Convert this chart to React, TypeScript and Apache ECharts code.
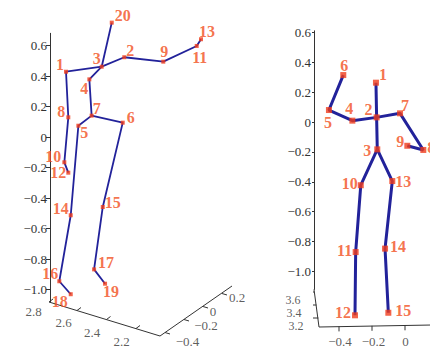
import React, { useEffect, useRef } from "react";
import * as echarts from "echarts";

// ---------- data ----------
// Left view (oblique): joint 1..20 horizontal (projected) and height values
const leftJointX = [0.105, 0.487, 0.339, 0.258, 0.186, 0.477, 0.273, 0.12, 0.743, 0.094, 0.962, 0.12, 0.99, 0.136, 0.346, 0.061, 0.289, 0.136, 0.361, 0.405];
const leftJointY = [0.428, 0.523, 0.461, 0.378, 0.074, 0.094, 0.14, 0.129, 0.494, -0.166, 0.597, -0.234, 0.641, -0.513, -0.459, -0.946, -0.868, -1.031, -0.962, 0.75];
const leftBones = [
  [20, 3],
  [13, 11, 9, 2, 3, 1, 8, 10, 12],
  [3, 4, 7, 5, 14, 16, 18],
  [7, 6, 15, 17, 19],
];

// Right view (frontal): joint 1..15 x and height values
const rightJointX = [-0.176, -0.172, -0.168, -0.319, -0.461, -0.374, -0.03, 0.111, 0.014, -0.268, -0.299, -0.303, -0.077, -0.121, -0.101];
const rightJointY = [0.263, 0.031, -0.183, 0.009, 0.08, 0.314, 0.058, -0.187, -0.159, -0.423, -0.87, -1.293, -0.395, -0.847, -1.276];
const rightBones = [
  [1, 2, 3],
  [6, 5, 4, 2, 7, 8, 9],
  [3, 10, 11, 12],
  [3, 13, 14, 15],
];

// tick labels
const heightTicks = [-1.0, -0.8, -0.6, -0.4, -0.2, 0, 0.2, 0.4, 0.6];
const leftDepthTicks = [2.8, 2.6, 2.4, 2.2];
const leftSideTicks = [-0.4, -0.2, 0, 0.2];
const rightDepthTicks = [3.6, 3.4, 3.2];
const rightXTicks = [-0.4, -0.2, 0];

// ---------- styling ----------
const leftLabelOffset = [
  [-6, -7], [6, -7], [-5, -8], [-5, 9], [6, 7], [8, -5], [5, -7], [-7, -6], [1, -10], [-11, -6],
  [3, 12], [-10, 0], [6, -8], [-10, -7], [10, -4], [-9, -8], [12, -7], [-11, 7], [6, 8], [11, -7],
];
const rightLabelOffset = [
  [7, -8], [-8, -8], [-10, 1], [-3, -12], [-1, 12], [1, -10], [5, -8], [8, -2], [-7, -4], [-11, -2],
  [-11, -2], [-12, -3], [11, 0], [13, -2], [15, -2],
];

const FONT = "'Liberation Serif', 'Times New Roman', serif";
const BLUE = "#22229a";
const RED = "#f03c1c";
const LABEL_RED = "#f24f20";
const AXIS = "#333";

// pixel -> data helpers for decorative 3D axes
const L = (px: number, py: number) => [(px - 50) / 152.5, (137 - py) / 152.5];
const R = (px: number, py: number) => [(px - 405) / 165, (122 - py) / 149.5];

const fmt = (v: number) => (Math.abs(v) < 1e-9 ? "0" : v.toFixed(1).replace("-", "\u2212"));

function lineSeries(idx: number, pts: number[][], color: string, width: number): any {
  return {
    type: "line",
    xAxisIndex: idx,
    yAxisIndex: idx,
    data: pts,
    symbol: "none",
    clip: false,
    silent: true,
    lineStyle: { color, width },
    z: 2,
  };
}

function textSeries(idx: number, items: { p: number[]; t: string }[], size = 13): any {
  return {
    type: "scatter",
    xAxisIndex: idx,
    yAxisIndex: idx,
    symbolSize: 0,
    clip: false,
    silent: true,
    data: items.map((it) => ({ name: it.t, value: it.p })),
    label: {
      show: true,
      position: "inside",
      formatter: (p: any) => p.name,
      color: AXIS,
      fontFamily: FONT,
      fontSize: size,
    },
    z: 3,
  };
}

function buildOption(): any {
  const series: any[] = [];

  // ---- left skeleton ----
  leftBones.forEach((chain) => {
    series.push(lineSeries(0, chain.map((j) => [leftJointX[j - 1], leftJointY[j - 1]]), BLUE, 1.8));
  });
  series.push({
    type: "scatter",
    xAxisIndex: 0,
    yAxisIndex: 0,
    symbol: "rect",
    symbolSize: 4,
    clip: false,
    itemStyle: { color: RED },
    data: leftJointX.map((x, i) => ({
      name: String(i + 1),
      value: [x, leftJointY[i]],
      label: { offset: leftLabelOffset[i] },
    })),
    label: {
      show: true,
      position: "inside",
      formatter: (p: any) => p.name,
      color: LABEL_RED,
      fontFamily: FONT,
      fontWeight: "bold",
      fontSize: 16,
    },
    z: 5,
  });

  // left 3D base axes
  series.push(lineSeries(0, [L(49, 302), L(160, 336), L(232, 286)], AXIS, 1));
  const ldTickPx = [[49, 302], [77, 310.5], [106.5, 319.5], [136, 328.5]];
  ldTickPx.forEach((p) => series.push(lineSeries(0, [L(p[0], p[1]), L(p[0] + 4, p[1] - 3)], AXIS, 1)));
  const ldLabPx = [[33.5, 311], [63.5, 322.5], [92, 332], [121.5, 341]];
  series.push(textSeries(0, leftDepthTicks.map((v, i) => ({ p: L(ldLabPx[i][0], ldLabPx[i][1]), t: v.toFixed(1) }))));
  const lsTickPx = [[165, 332.5], [184, 319.5], [203, 306.5], [222, 293.5]];
  lsTickPx.forEach((p) => series.push(lineSeries(0, [L(p[0], p[1]), L(p[0] + 5, p[1] + 1.5)], AXIS, 1)));
  const lsLabPx = [[187.5, 341], [206, 325.5], [213, 311.5], [237, 297.5]];
  series.push(textSeries(0, leftSideTicks.map((v, i) => ({ p: L(lsLabPx[i][0], lsLabPx[i][1]), t: fmt(v) }))));

  // ---- right skeleton ----
  rightBones.forEach((chain) => {
    series.push(lineSeries(1, chain.map((j) => [rightJointX[j - 1], rightJointY[j - 1]]), BLUE, 3));
  });
  series.push({
    type: "scatter",
    xAxisIndex: 1,
    yAxisIndex: 1,
    symbol: "rect",
    symbolSize: 6,
    clip: false,
    itemStyle: { color: RED },
    data: rightJointX.map((x, i) => ({
      name: String(i + 1),
      value: [x, rightJointY[i]],
      label: { offset: rightLabelOffset[i] },
    })),
    label: {
      show: true,
      position: "inside",
      formatter: (p: any) => p.name,
      color: LABEL_RED,
      fontFamily: FONT,
      fontWeight: "bold",
      fontSize: 16,
    },
    z: 5,
  });

  // right 3D base axes
  series.push(lineSeries(1, [R(314, 289.4), R(319, 327), R(432, 325)], AXIS, 1));
  const rdTickPx = [[314.3, 292], [316.4, 305], [318.4, 318]];
  rdTickPx.forEach((p) => series.push(lineSeries(1, [R(p[0], p[1]), R(p[0] - 6, p[1])], AXIS, 1)));
  const rdLabPx = [[293, 300], [294, 313], [296, 326]];
  series.push(textSeries(1, rightDepthTicks.map((v, i) => ({ p: R(rdLabPx[i][0], rdLabPx[i][1]), t: v.toFixed(1) })), 12));
  const rxTickPx = [[339, 326.4], [372, 325.8], [405, 325.3]];
  rxTickPx.forEach((p) => series.push(lineSeries(1, [R(p[0], p[1]), R(p[0], p[1] + 5)], AXIS, 1)));
  const rxLabPx = [[340, 341.5], [373.5, 341.5], [405.5, 341.5]];
  series.push(textSeries(1, rightXTicks.map((v, i) => ({ p: R(rxLabPx[i][0], rxLabPx[i][1]), t: fmt(v) }))));

  const yAxisCommon = (tickLen: number, margin: number) => ({
    type: "value",
    axisLine: { show: true, onZero: false, lineStyle: { color: AXIS, width: 1 } },
    axisTick: { show: true, inside: false, length: tickLen, customValues: heightTicks, lineStyle: { color: AXIS } },
    axisLabel: {
      show: true,
      customValues: heightTicks,
      margin,
      color: AXIS,
      fontFamily: FONT,
      fontSize: 13,
      formatter: (v: number) => fmt(v),
    },
    splitLine: { show: false },
  });

  return {
    animation: false,
    backgroundColor: "#ffffff",
    grid: [
      { left: 50, top: 137 - 0.68 * 152.5, width: 1.25 * 152.5, height: 1.76 * 152.5 },
      { left: 314, top: 122 - 0.61 * 149.5, width: 116, height: 1.73 * 149.5 },
    ],
    xAxis: [
      { type: "value", gridIndex: 0, min: 0, max: 1.25, show: false },
      { type: "value", gridIndex: 1, min: (314 - 405) / 165, max: (430 - 405) / 165, show: false },
    ],
    yAxis: [
      { ...yAxisCommon(4, 3), gridIndex: 0, min: -1.08, max: 0.68 },
      { ...yAxisCommon(2, 3), gridIndex: 1, min: -1.12, max: 0.61 },
    ],
    series,
  };
}

export default function App() {
  const ref = useRef<HTMLDivElement>(null);
  useEffect(() => {
    if (!ref.current) return;
    const chart = echarts.init(ref.current, undefined, { renderer: "svg" });
    chart.setOption(buildOption());
    return () => chart.dispose();
  }, []);
  return (
    <div
      ref={ref}
      style={{ position: "fixed", left: 0, top: 0, width: 430, height: 352, background: "#fff" }}
    />
  );
}
